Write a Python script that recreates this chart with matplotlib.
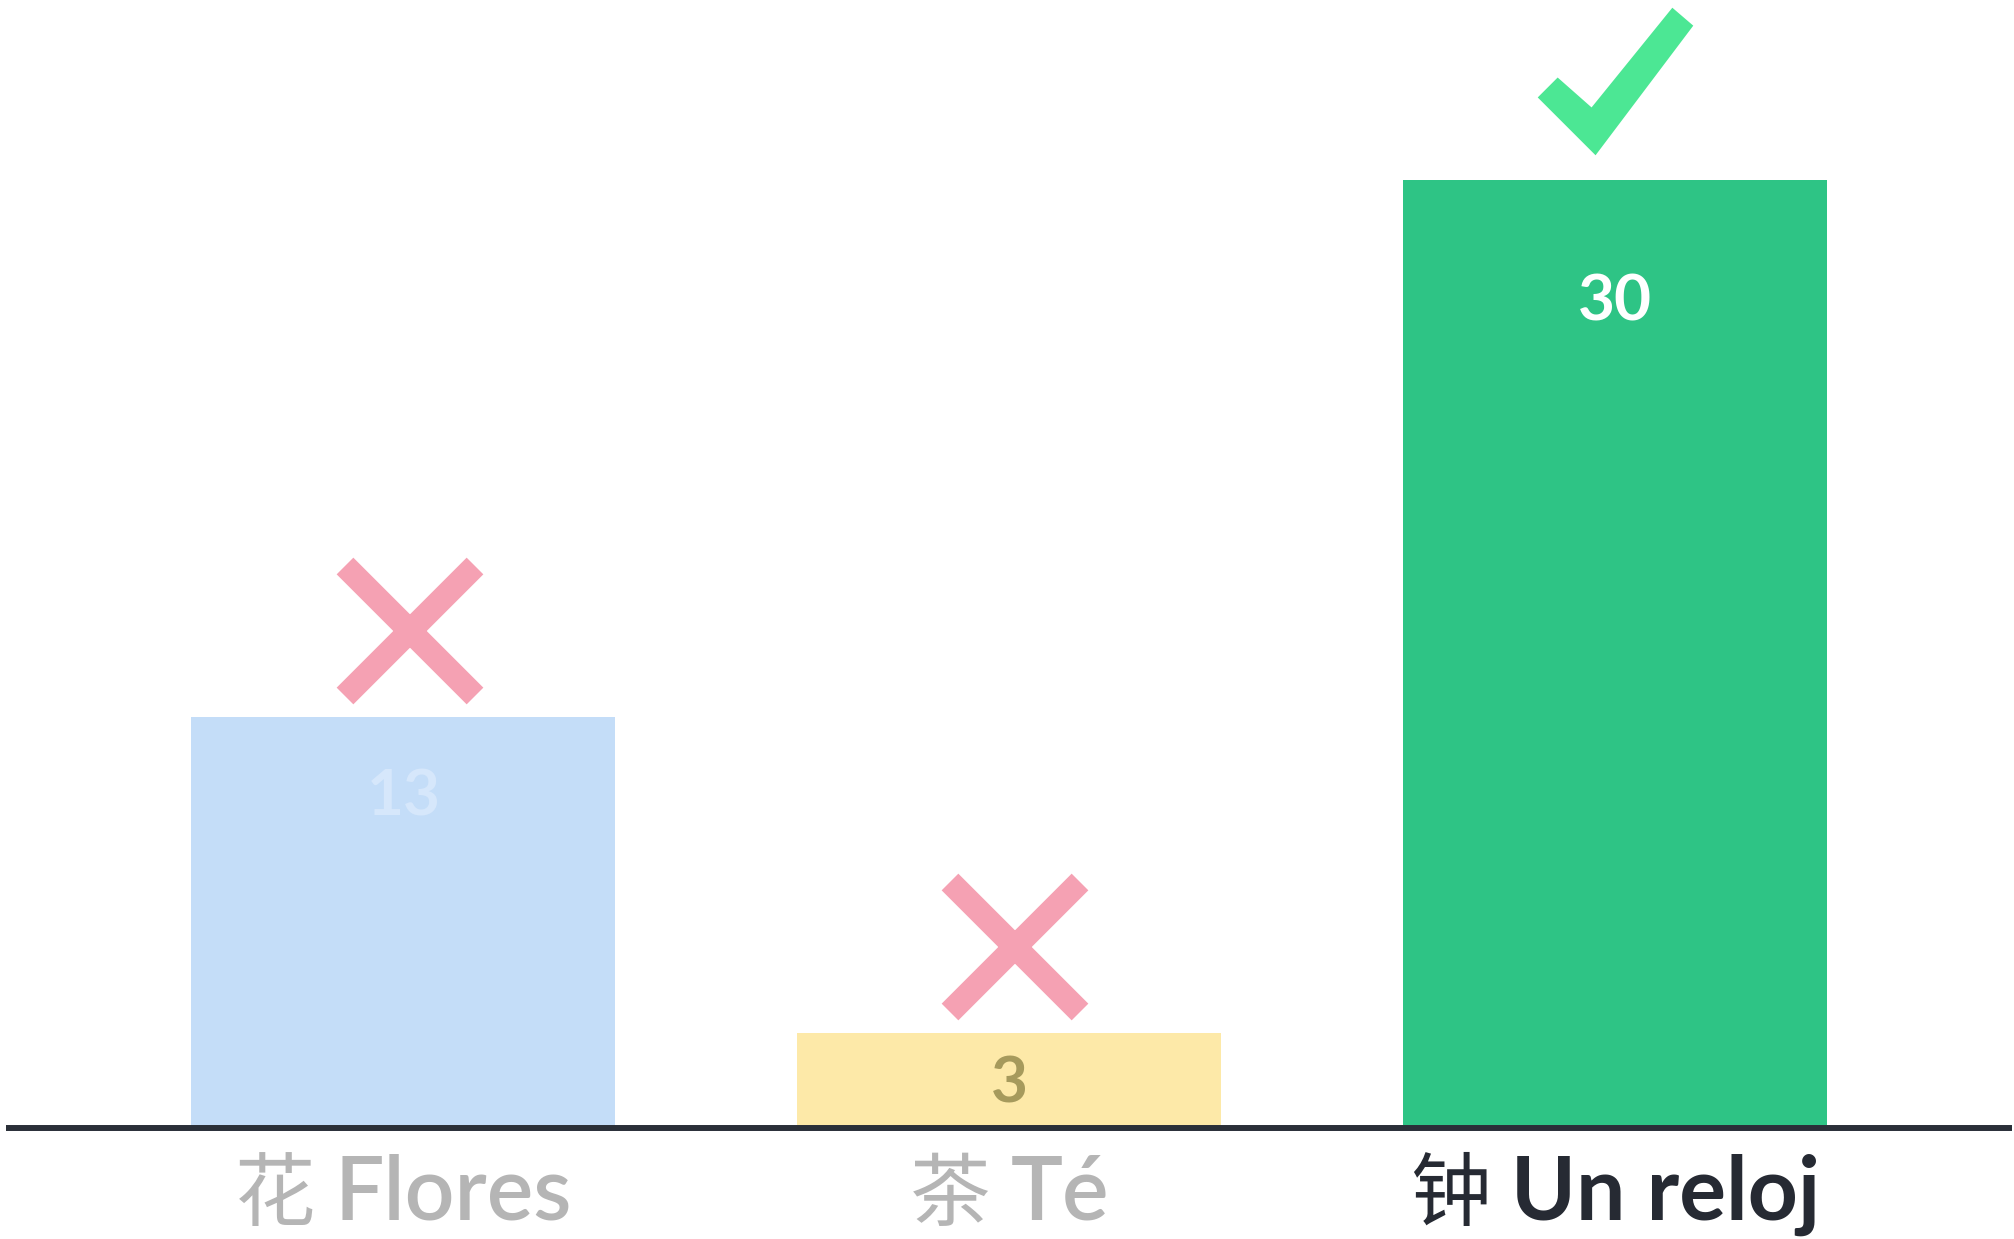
import matplotlib
matplotlib.use("Agg")
import matplotlib.pyplot as plt
from matplotlib.path import Path
from matplotlib.markers import MarkerStyle
from matplotlib import transforms

# ---- data ----
categories = ["花 Flores", "茶 Té", "钟 Un reloj"]
values = [13, 3, 30]
correct = [False, False, True]

# ---- style ----
bar_colors = ["#c4ddf8", "#fde9a8", "#2ec485"]
value_colors = ["#d6e7fb", "#a69a5c", "#ffffff"]
label_drop = [2.52, 1.61, 3.87]          # value label distance below bar top (data units)
label_colors = ["#b5b5b5", "#b5b5b5", "#262a33"]
cross_color = "#f5a1b3"
check_color = "#4ce794"
axis_color = "#2a2f38"

latin_fam = ["Lato", "DejaVu Sans"]
cjk_fam = ["Noto Sans CJK SC", "DejaVu Sans"]
plt.rcParams["font.family"] = latin_fam

W, H, DPI = 2015, 1239, 100
fig = plt.figure(figsize=(W / DPI, H / DPI), dpi=DPI)
ax = fig.add_axes([6 / W, (H - 1128) / H, (2012 - 6) / W, 1128 / H])

x = list(range(len(categories)))
ax.bar(x, values, width=0.70, color=bar_colors, zorder=2)

ax.set_xlim(-0.656, 2.655)
ax.set_ylim(0, 35.7)

for s in ["top", "right", "left"]:
    ax.spines[s].set_visible(False)
sp = ax.spines["bottom"]
sp.set_color(axis_color)
sp.set_linewidth(4.3)
sp.set_zorder(5)
sp.set_capstyle("butt")
ax.set_yticks([])
ax.set_xticks(x)
ax.set_xticklabels([""] * len(x))
ax.tick_params(axis="x", length=0)

# value labels
for xi, v, c, d in zip(x, values, value_colors, label_drop):
    ax.text(xi, v - d, str(v), ha="center", va="center", fontsize=46,
            color=c, fontweight="bold", family=latin_fam, zorder=4)

# check mark shape (filled outline, unit-free)
check_path = Path([(-78, -16), (-20, -74), (78, 56), (57, 74), (-24, -26), (-58, 4), (-78, -16)],
                  [Path.MOVETO] + [Path.LINETO] * 5 + [Path.CLOSEPOLY])
check_marker = MarkerStyle(check_path, joinstyle="miter")

for xi, v, ok in zip(x, values, correct):
    if ok:
        ax.plot([xi], [v + 3.13], linestyle="none", marker=check_marker,
                markersize=112, markeredgewidth=0, markerfacecolor=check_color,
                zorder=3, clip_on=False)
    else:
        ax.plot([xi + 0.01], [v + 2.73], linestyle="none",
                marker=MarkerStyle("x", capstyle="butt"),
                markersize=93, markeredgewidth=17, markeredgecolor=cross_color,
                zorder=3, clip_on=False)

# category labels: CJK part light, Latin part semibold
fig.canvas.draw()
renderer = fig.canvas.get_renderer()
gap_px = 20
base_y = -2.91
for xi, cat, c in zip(x, categories, label_colors):
    cjk, latin = cat.split(" ", 1)
    dark = c == "#262a33"
    t1 = ax.text(xi, base_y, cjk, ha="left", va="baseline", fontsize=58,
                 family=cjk_fam, fontweight="normal" if dark else "light",
                 color=c, clip_on=False)
    t2 = ax.text(xi, base_y, latin, ha="left", va="baseline", fontsize=63,
                 family=latin_fam, fontweight="bold" if dark else "semibold",
                 color=c, clip_on=False)
    w1 = t1.get_window_extent(renderer).width
    w2 = t2.get_window_extent(renderer).width
    total = w1 + gap_px + w2
    t1.set_transform(transforms.offset_copy(ax.transData, fig=fig, x=-total / 2, y=0, units="dots"))
    t2.set_transform(transforms.offset_copy(ax.transData, fig=fig, x=-total / 2 + w1 + gap_px, y=0, units="dots"))

fig.savefig("out.png", dpi=DPI, facecolor="white")
